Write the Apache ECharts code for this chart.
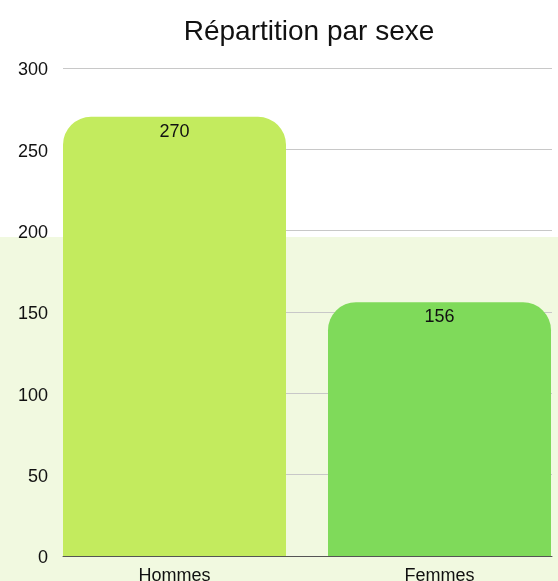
<!DOCTYPE html>
<html>
<head>
<meta charset="utf-8">
<script src="https://cdn.jsdelivr.net/npm/echarts@6/dist/echarts.min.js"></script>
<style>
  html, body { margin: 0; padding: 0; background: #fff; }
  #chart { width: 558px; height: 581px; }
</style>
</head>
<body>
<div id="chart"></div>
<script>
const categories = ['Hommes', 'Femmes'];
const values = [270, 156];
const barColors = ['#c3eb5e', '#7fda5a'];
const yTicks = [0, 50, 100, 150, 200, 250, 300];

const font = 'Liberation Sans';

const getOption = () => {
  return {
    animation: false,
    title: {
      text: 'Répartition par sexe',
      left: 304,
      top: 13,
      textAlign: 'center',
      textStyle: { fontFamily: font, fontSize: 28, fontWeight: 'normal', color: '#111' }
    },
    graphic: [
      {
        type: 'rect',
        z: -10,
        shape: { x: 0, y: 237, width: 558, height: 344 },
        style: { fill: '#f1f9e0' }
      }
    ],
    grid: [
      // bars (wider than the gridlines, may run past the right edge)
      { left: 42, top: 68, width: 530, height: 488, outerBoundsMode: 'none', containLabel: false },
      // gridlines + y labels
      { left: 63, top: 68, width: 489, height: 488, outerBoundsMode: 'none', containLabel: false }
    ],
    xAxis: [
      {
        gridIndex: 0,
        type: 'category',
        data: categories,
        axisLine: { show: false },
        axisTick: { show: false },
        axisLabel: { fontFamily: font, fontSize: 18, color: '#111', margin: 11 }
      },
      {
        gridIndex: 1,
        type: 'value',
        show: true,
        axisLine: { show: true, lineStyle: { color: '#555', width: 1 } },
        axisTick: { show: false },
        axisLabel: { show: false },
        splitLine: { show: false }
      }
    ],
    yAxis: [
      {
        gridIndex: 0,
        type: 'value',
        min: yTicks[0],
        max: yTicks[yTicks.length - 1],
        interval: 50,
        axisLine: { show: false },
        axisTick: { show: false },
        axisLabel: { show: false },
        splitLine: { show: false }
      },
      {
        gridIndex: 1,
        type: 'value',
        min: yTicks[0],
        max: yTicks[yTicks.length - 1],
        interval: 50,
        axisLine: { show: false },
        axisTick: { show: false },
        axisLabel: {
          fontFamily: font, fontSize: 18, color: '#111', margin: 15,
          verticalAlign: 'top', lineHeight: 5
        },
        splitLine: { show: true, lineStyle: { color: '#c8c8c8', width: 1 } }
      }
    ],
    series: [
      {
        type: 'bar',
        xAxisIndex: 0,
        yAxisIndex: 0,
        barWidth: 223,
        data: values.map((v, i) => ({
          value: v,
          itemStyle: { color: barColors[i] }
        })),
        itemStyle: { borderRadius: [28, 28, 0, 0] },
        label: {
          show: true,
          position: 'insideTop',
          distance: 6,
          fontFamily: font,
          fontSize: 18,
          color: '#111'
        }
      }
    ]
  };
};

const chart = echarts.init(document.getElementById('chart'));
chart.setOption(getOption());
</script>
</body>
</html>
